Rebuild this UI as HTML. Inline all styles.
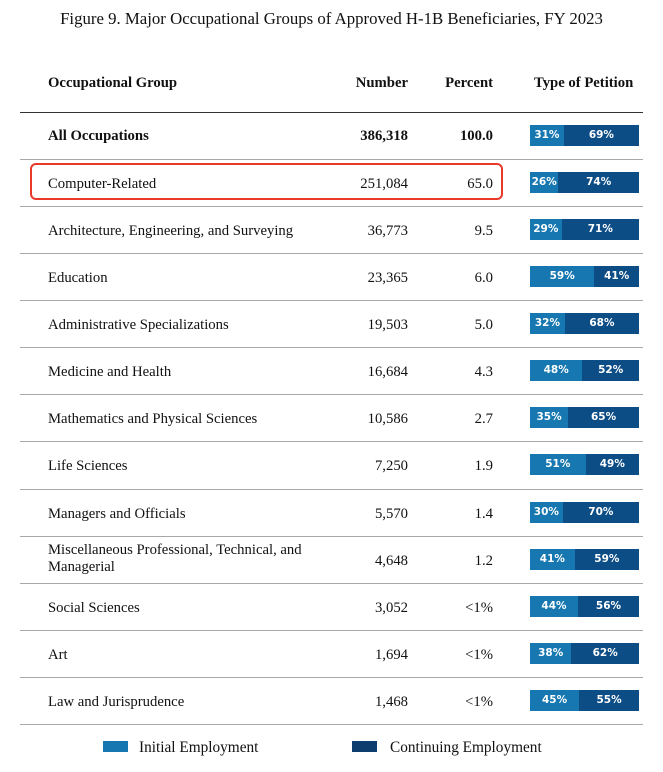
<!DOCTYPE html>
<html><head><meta charset="utf-8"><style>
body{margin:0;width:663px;height:772px;background:#fff;position:relative;font-family:"Liberation Serif",serif;color:#111;overflow:hidden}
.a{position:absolute;white-space:nowrap}
.t{font-size:14.7px;line-height:20px;margin-top:2px}
.b{font-weight:bold}
.ln{position:absolute;left:20px;width:623px;height:1px;background:#a8a8a8}
.bar{position:absolute;left:530px;width:109px;height:21px;display:flex;font-family:"DejaVu Sans","Liberation Sans",sans-serif;font-weight:bold;font-size:10.5px;color:#fff;line-height:21px}
.i{background:#1677b1;text-align:center}
.c{background:#0c4d86;text-align:center;flex:1}
.n{right:255px;text-align:right}
.p{right:170px;text-align:right}
</style></head><body>
<div class="a" style="left:0;width:663px;text-align:center;top:8px;font-size:16.8px;line-height:22px">Figure 9. Major Occupational Groups of Approved H-1B Beneficiaries, FY 2023</div>

<div class="a t b" style="left:48px;top:71px">Occupational Group</div>
<div class="a t b n" style="top:71px">Number</div>
<div class="a t b p" style="top:71px">Percent</div>
<div class="a t b" style="left:534px;top:71px">Type of Petition</div>
<div class="ln" style="top:112px;background:#333"></div>

<div class="a t b" style="left:48px;top:124px">All Occupations</div>
<div class="a t b n" style="top:124px">386,318</div>
<div class="a t b p" style="top:124px">100.0</div>
<div class="bar" style="top:125px"><div class="i" style="width:31%">31%</div><div class="c">69%</div></div>
<div class="ln" style="top:159px"></div>

<div class="a" style="left:30px;top:163px;width:469px;height:33px;border:2px solid #e8392a;border-radius:6px"></div>
<div class="a t" style="left:48px;top:172px">Computer-Related</div>
<div class="a t n" style="top:172px">251,084</div>
<div class="a t p" style="top:172px">65.0</div>
<div class="bar" style="top:172px"><div class="i" style="width:26%">26%</div><div class="c">74%</div></div>
<div class="ln" style="top:206px"></div>

<div class="a t" style="left:48px;top:219px">Architecture, Engineering, and Surveying</div>
<div class="a t n" style="top:219px">36,773</div>
<div class="a t p" style="top:219px">9.5</div>
<div class="bar" style="top:219px"><div class="i" style="width:29%">29%</div><div class="c">71%</div></div>
<div class="ln" style="top:253px"></div>

<div class="a t" style="left:48px;top:266px">Education</div>
<div class="a t n" style="top:266px">23,365</div>
<div class="a t p" style="top:266px">6.0</div>
<div class="bar" style="top:266px"><div class="i" style="width:59%">59%</div><div class="c">41%</div></div>
<div class="ln" style="top:300px"></div>

<div class="a t" style="left:48px;top:313px">Administrative Specializations</div>
<div class="a t n" style="top:313px">19,503</div>
<div class="a t p" style="top:313px">5.0</div>
<div class="bar" style="top:313px"><div class="i" style="width:32%">32%</div><div class="c">68%</div></div>
<div class="ln" style="top:347px"></div>

<div class="a t" style="left:48px;top:360px">Medicine and Health</div>
<div class="a t n" style="top:360px">16,684</div>
<div class="a t p" style="top:360px">4.3</div>
<div class="bar" style="top:360px"><div class="i" style="width:48%">48%</div><div class="c">52%</div></div>
<div class="ln" style="top:394px"></div>

<div class="a t" style="left:48px;top:407px">Mathematics and Physical Sciences</div>
<div class="a t n" style="top:407px">10,586</div>
<div class="a t p" style="top:407px">2.7</div>
<div class="bar" style="top:407px"><div class="i" style="width:35%">35%</div><div class="c">65%</div></div>
<div class="ln" style="top:441px"></div>

<div class="a t" style="left:48px;top:454px">Life Sciences</div>
<div class="a t n" style="top:454px">7,250</div>
<div class="a t p" style="top:454px">1.9</div>
<div class="bar" style="top:454px"><div class="i" style="width:51%">51%</div><div class="c">49%</div></div>
<div class="ln" style="top:489px"></div>

<div class="a t" style="left:48px;top:502px">Managers and Officials</div>
<div class="a t n" style="top:502px">5,570</div>
<div class="a t p" style="top:502px">1.4</div>
<div class="bar" style="top:502px"><div class="i" style="width:30%">30%</div><div class="c">70%</div></div>
<div class="ln" style="top:536px"></div>

<div class="a t" style="left:48px;top:540px;line-height:17px">Miscellaneous Professional, Technical, and<br>Managerial</div>
<div class="a t n" style="top:549px">4,648</div>
<div class="a t p" style="top:549px">1.2</div>
<div class="bar" style="top:549px"><div class="i" style="width:41%">41%</div><div class="c">59%</div></div>
<div class="ln" style="top:583px"></div>

<div class="a t" style="left:48px;top:596px">Social Sciences</div>
<div class="a t n" style="top:596px">3,052</div>
<div class="a t p" style="top:596px">&lt;1%</div>
<div class="bar" style="top:596px"><div class="i" style="width:44%">44%</div><div class="c">56%</div></div>
<div class="ln" style="top:630px"></div>

<div class="a t" style="left:48px;top:643px">Art</div>
<div class="a t n" style="top:643px">1,694</div>
<div class="a t p" style="top:643px">&lt;1%</div>
<div class="bar" style="top:643px"><div class="i" style="width:38%">38%</div><div class="c">62%</div></div>
<div class="ln" style="top:677px"></div>

<div class="a t" style="left:48px;top:690px">Law and Jurisprudence</div>
<div class="a t n" style="top:690px">1,468</div>
<div class="a t p" style="top:690px">&lt;1%</div>
<div class="bar" style="top:690px"><div class="i" style="width:45%">45%</div><div class="c">55%</div></div>
<div class="ln" style="top:724px"></div>

<div class="a" style="left:103px;top:741px;width:25px;height:11px;background:#1677b1"></div>
<div class="a t" style="left:139px;top:736px;font-size:15.3px">Initial Employment</div>
<div class="a" style="left:352px;top:741px;width:25px;height:11px;background:#0c3d6e"></div>
<div class="a t" style="left:390px;top:736px;font-size:15.3px">Continuing Employment</div>
</body></html>
